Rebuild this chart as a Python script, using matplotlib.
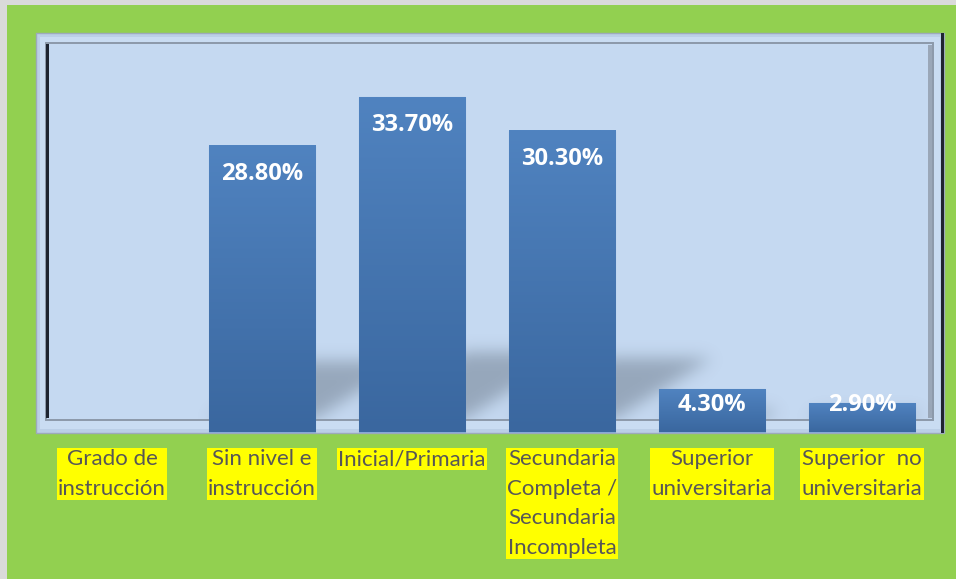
import numpy as np
import matplotlib
matplotlib.use("Agg")
import matplotlib.pyplot as plt
from matplotlib.patches import Rectangle

# datos del grafico
categorias = ["Grado de\ninstrucción", "Sin nivel e\ninstrucción", "Inicial/Primaria",
              "Secundaria\nCompleta /\nSecundaria\nIncompleta", "Superior\nuniversitaria",
              "Superior  no\nuniversitaria"]
valores = [0.0, 28.8, 33.7, 30.3, 4.3, 2.9]
etiquetas = ["", "28.80%", "33.70%", "30.30%", "4.30%", "2.90%"]

W, H = 956, 579
fig = plt.figure(figsize=(W / 100, H / 100), dpi=100)
fig.patch.set_facecolor("#DADADA")


def caja(x0, y0, x1, y1, **kw):
    # rectangulo en pixeles medidos desde arriba a la izquierda
    r = Rectangle((x0 / W, 1 - y1 / H), (x1 - x0) / W, (y1 - y0) / H,
                  transform=fig.transFigure, zorder=-1, **kw)
    fig.patches.append(r)
    return r


# fondo verde y marco biselado
caja(7, 5, W, H, facecolor="#92D050", edgecolor="none")
caja(36, 33, 944, 433, facecolor="#BBCFE7", edgecolor="#9DAABB", lw=1.0)
caja(40, 37, 940, 429, facecolor="#C9DCF2", edgecolor="none")
caja(46, 43, 933, 420, facecolor="#C5D9F1", edgecolor="#8C99AA", lw=1.4)
caja(928, 45, 932, 418, facecolor="#9AA7B8", edgecolor="none")
caja(46, 44, 49, 418, facecolor="#1E2430", edgecolor="none")
caja(941, 33, 944, 433, facecolor="#1E2430", edgecolor="none")

ax = fig.add_axes([37 / W, (H - 432) / H, 900 / W, 397.6 / H])
ax.set_zorder(1)
ax.patch.set_visible(False)
ax.set_xlim(-0.5, 5.5)
ax.set_ylim(0, 40)
ax.axis("off")

x = np.arange(len(valores))
ancho = 0.713

# sombra proyectada de las barras sobre el fondo
nx, ny = 900, 398
xs = np.linspace(-0.5, 5.5, nx)
ys = np.linspace(0, 40, ny)
XX, YY = np.meshgrid(xs, ys)
piso = 1.3
mask = np.zeros((ny, nx))
for xi, v in zip(x, valores):
    if v <= 0:
        continue
    hs = 0.2 * v
    dx = hs * 9.94 * 1.6 / 150
    t = (YY - piso) / hs
    desp = XX - t * dx
    dentro = (t >= 0) & (t <= 1) & (desp >= xi - ancho / 2) & (desp <= xi + ancho / 2)
    mask[dentro] = 1.0
k = np.exp(-0.5 * (np.arange(-24, 25) / 8.0) ** 2)
k /= k.sum()
mask = np.apply_along_axis(lambda r: np.convolve(r, k, mode="same"), 1, mask)
mask = np.apply_along_axis(lambda c: np.convolve(c, k, mode="same"), 0, mask)
mask[YY < piso] = 0
sombra = np.zeros((ny, nx, 4))
sombra[..., :3] = np.array([74, 86, 100]) / 255
sombra[..., 3] = 0.38 * mask
ax.imshow(sombra, extent=(-0.5, 5.5, 0, 40), origin="lower", aspect="auto",
          interpolation="bilinear", zorder=1)

# barras con degradado vertical
bordes = [0.8 if v > 0 else 0 for v in valores]
barras = ax.bar(x, valores, width=ancho, color="#4A7AB5", edgecolor="#86A9D6",
                linewidth=bordes, zorder=2, clip_on=False)
grad = np.linspace(0, 1, 256).reshape(-1, 1)
c_arriba = np.array([0x50, 0x83, 0xC0]) / 255
c_abajo = np.array([0x3A, 0x67, 0x9F]) / 255
img = c_abajo + grad[..., None] * (c_arriba - c_abajo)
for b, v in zip(barras, valores):
    if v <= 0:
        continue
    im = ax.imshow(img, extent=(b.get_x(), b.get_x() + b.get_width(), 0, v),
                   origin="lower", aspect="auto", zorder=2.5, clip_on=False)
    im.set_clip_path(b)

for xi, v, et in zip(x, valores, etiquetas):
    if not et:
        continue
    yl = max(v - 2.85, 2.75)
    ax.text(xi, yl, et, ha="center", va="center", color="white",
            fontsize=17, fontweight="bold", family="Open Sans", zorder=3)

for xi, c in zip(x, categorias):
    ax.annotate(c, xy=(xi, 0), xytext=(0, -17), textcoords="offset pixels",
                ha="center", va="top", multialignment="center", fontsize=16,
                family="Lato", color="#575757", linespacing=1.6,
                annotation_clip=False,
                bbox=dict(boxstyle="square,pad=0.06", facecolor="#FFFF00",
                          edgecolor="none"))

fig.savefig("out.png", dpi=100, facecolor=fig.get_facecolor())
